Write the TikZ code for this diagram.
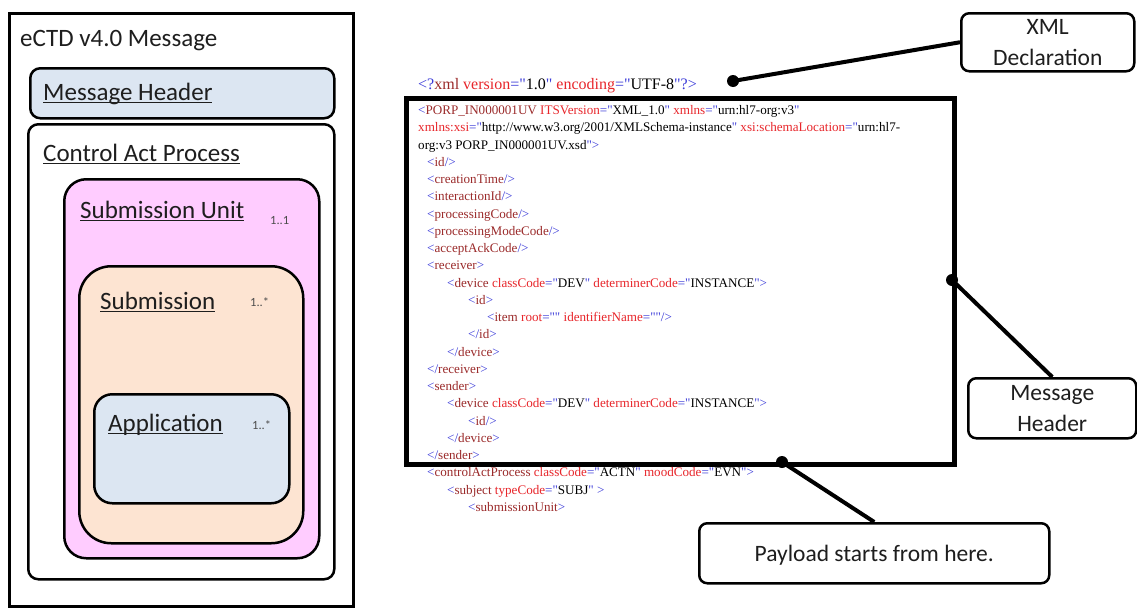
\documentclass[tikz,border=0pt]{standalone}
\usepackage{fontspec}
\setmainfont{Carlito}
\newfontfamily\xmlfont{Liberation Serif}

% fills and XML syntax colours
\definecolor{hdrblue}{HTML}{DCE6F2}
\definecolor{supink}{HTML}{FFCCFF}
\definecolor{subpeach}{HTML}{FDE4D2}
\definecolor{labtext}{HTML}{1E1E1E}
\definecolor{xbrk}{HTML}{3B3BD9}
\definecolor{xelem}{HTML}{9B2B2B}
\definecolor{xattr}{HTML}{E8262B}

\newcommand\xb[1]{\textcolor{xbrk}{#1}}
\newcommand\xe[1]{\textcolor{xelem}{#1}}
\newcommand\xa[1]{\textcolor{xattr}{#1}}
\newsavebox\ulbox
\newcommand\myul[1]{\sbox\ulbox{#1}\rlap{\rule[-3.2pt]{\wd\ulbox}{1.3pt}}\usebox\ulbox}

\tikzset{
  frame/.style={draw, line width=2.5pt, anchor=north west, inner sep=0pt},
  lab/.style={anchor=base west, inner sep=0pt, text=labtext, font=\fontsize{25}{30}\selectfont},
  mult/.style={anchor=base west, inner sep=0pt, text=black!70, font=\fontsize{12.5}{14}\selectfont},
  xml/.style={anchor=base west, inner sep=0pt, font=\xmlfont\fontsize{13.1}{16}\selectfont},
  callout/.style={draw, fill=white, line width=2.5pt, rounded corners=8pt, align=center,
    font=\fontsize{23.5}{31}\selectfont, text=labtext, anchor=north west, inner sep=0pt},
  lead/.style={line width=4pt},
  dot/.style={circle, fill=black, inner sep=0pt, minimum size=12pt},
}

\begin{document}
\begin{tikzpicture}[x=1pt,y=-1pt]
\useasboundingbox (0,0) rectangle (1137,608);
\fill[white] (0,0) rectangle (1137,608);

% ---- nested message structure ----
\node[frame, line width=3pt, minimum width=344pt, minimum height=593pt] (msg) at (8,12) {};
\node[frame, fill=hdrblue, rounded corners=10pt, minimum width=304pt, minimum height=50pt] (hdr) at (29,67) {};
\node[frame, fill=white, rounded corners=10pt, minimum width=306pt, minimum height=455pt] (cap) at (27,123) {};
\node[frame, fill=supink, rounded corners=22pt, minimum width=255pt, minimum height=379pt] (su) at (63,178) {};
\node[frame, fill=subpeach, rounded corners=32pt, minimum width=224pt, minimum height=277pt] (sub) at (78,265) {};
\node[frame, fill=hdrblue, rounded corners=18pt, minimum width=195pt, minimum height=109pt] (app) at (93,393) {};

\node[lab] (tmsg) at (20,46) {eCTD v4.0 Message};
\node[lab] (thdr) at (43,100) {\myul{Message Header}};
\node[lab] (tcap) at (43,161) {\myul{Control Act Process}};
\node[lab] (tsu)  at (80,218) {\myul{Submission Unit}};
\node[mult] (msu) at (270,224) {1..1};
\node[lab] (tsub) at (100,309) {\myul{Submission}};
\node[mult] (msub) at (250,306) {1..*};
\node[lab] (tapp) at (108,431) {\myul{Application}};
\node[mult] (mapp) at (252,429) {1..*};

% ---- XML listing ----
\node[xml, font=\xmlfont\fontsize{16}{18}\selectfont] (x0) at (418,89.5)
  {\xb{<?}\xe{xml} \xa{version}\xb{="}1.0\xb{"} \xa{encoding}\xb{="}UTF-8\xb{"?>}};

\node[frame, line width=4.5pt, minimum width=548pt, minimum height=366pt] (xmlbox) at (404,96) {};

\node[xml] (l0)  at (418,114.5) {\xb{<}\xe{PORP\_IN000001UV} \xa{ITSVersion}\xb{="}XML\_1.0\xb{"} \xa{xmlns}\xb{="}urn:hl7-org:v3\xb{"}};
\node[xml] (l1)  at (418,131.75) {\xa{xmlns:xsi}\xb{="}http://www.w3.org/2001/XMLSchema-instance\xb{"} \xa{xsi:schemaLocation}\xb{="}urn:hl7-};
\node[xml] (l2)  at (418,149) {org:v3 PORP\_IN000001UV.xsd\xb{">}};
\node[xml] (l3)  at (427,166.25) {\xb{<}\xe{id}\xb{/>}};
\node[xml] (l4)  at (427,183.5) {\xb{<}\xe{creationTime}\xb{/>}};
\node[xml] (l5)  at (427,200.75) {\xb{<}\xe{interactionId}\xb{/>}};
\node[xml] (l6)  at (427,218) {\xb{<}\xe{processingCode}\xb{/>}};
\node[xml] (l7)  at (427,235.25) {\xb{<}\xe{processingModeCode}\xb{/>}};
\node[xml] (l8)  at (427,252.5) {\xb{<}\xe{acceptAckCode}\xb{/>}};
\node[xml] (l9)  at (427,269.75) {\xb{<}\xe{receiver}\xb{>}};
\node[xml] (l10) at (447,287) {\xb{<}\xe{device} \xa{classCode}\xb{="}DEV\xb{"} \xa{determinerCode}\xb{="}INSTANCE\xb{">}};
\node[xml] (l11) at (468,304.25) {\xb{<}\xe{id}\xb{>}};
\node[xml] (l12) at (487,321.5) {\xb{<}\xe{item} \xa{root}\xb{=""} \xa{identifierName}\xb{=""/>}};
\node[xml] (l13) at (468,338.75) {\xb{</}\xe{id}\xb{>}};
\node[xml] (l14) at (447,356) {\xb{</}\xe{device}\xb{>}};
\node[xml] (l15) at (427,373.25) {\xb{</}\xe{receiver}\xb{>}};
\node[xml] (l16) at (427,390.5) {\xb{<}\xe{sender}\xb{>}};
\node[xml] (l17) at (447,407.75) {\xb{<}\xe{device} \xa{classCode}\xb{="}DEV\xb{"} \xa{determinerCode}\xb{="}INSTANCE\xb{">}};
\node[xml] (l18) at (468,425) {\xb{<}\xe{id}\xb{/>}};
\node[xml] (l19) at (447,442.25) {\xb{</}\xe{device}\xb{>}};
\node[xml] (l20) at (427,459.5) {\xb{</}\xe{sender}\xb{>}};
\node[xml] (l21) at (427,476.75) {\xb{<}\xe{controlActProcess} \xa{classCode}\xb{="}ACTN\xb{"} \xa{moodCode}\xb{="}EVN\xb{">}};
\node[xml] (l22) at (447,494) {\xb{<}\xe{subject} \xa{typeCode}\xb{="}SUBJ\xb{" >}};
\node[xml] (l23) at (468,511.25) {\xb{<}\xe{submissionUnit}\xb{>}};

% ---- callouts ----
\node[callout, minimum width=173pt, minimum height=58pt] (decl) at (960,12) {XML\\Declaration};
\node[callout, minimum width=168pt, minimum height=60pt] (mhc) at (967,377) {Message\\Header};
\node[callout, text depth=0pt, minimum width=350pt, minimum height=60pt] (pay) at (698,522) {Payload starts from here.};

\node[dot] (ddecl) at (733,81) {};
\node[dot] (dmh) at (952,280) {};
\node[dot] (dpay) at (782,462) {};

\draw[lead] (ddecl.center) -- (decl.west);
\draw[lead] (dmh.center) -- (mhc.north);
\draw[lead] (dpay.center) -- (pay.north);
\end{tikzpicture}
\end{document}
